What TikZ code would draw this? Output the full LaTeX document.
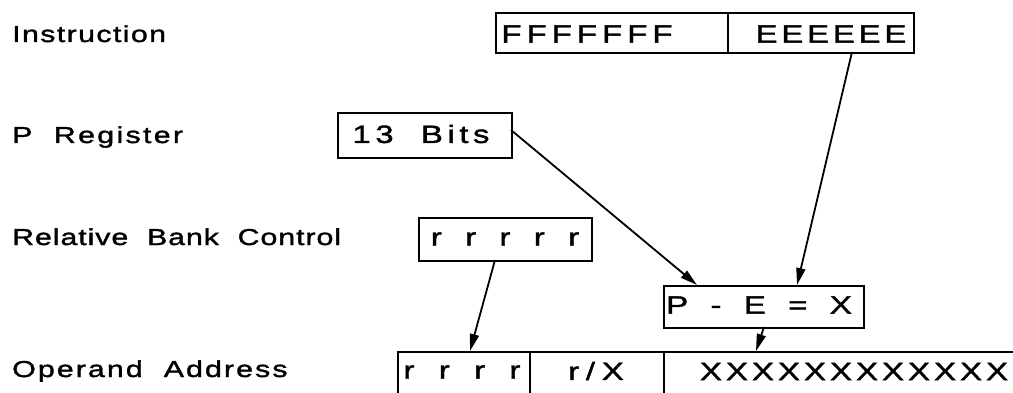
\documentclass[tikz,border=0pt]{standalone}
\usepackage{fontspec}
\setmainfont{Liberation Sans}[FakeStretch=1.32,WordSpace=2.0,FakeBold=1.5]
\newcommand{\lsp}[1]{\addfontfeature{LetterSpace=#1}}
\usetikzlibrary{arrows.meta}
\begin{document}
\begin{tikzpicture}[x=1pt,y=-1pt,
  box/.style={draw,line width=1.8pt,inner sep=0pt,anchor=north west},
  txt/.style={inner sep=0pt,font=\fontsize{25}{29}\selectfont},
  lbl/.style={inner sep=0pt,anchor=base west,font=\fontsize{23}{27}\selectfont},
  arr/.style={line width=1.8pt,-{Triangle[length=17pt,width=9pt]}}]
\useasboundingbox (0,0) rectangle (1013,393);
% labels
\node[lbl] (l1) at (12,42) {\lsp{6}Instruction};
\node[lbl] (l2) at (12,143) {\lsp{10}P Register};
\node[lbl] (l3) at (12,245) {\lsp{4}Relative Bank Control};
\node[lbl] (l4) at (12,377) {\lsp{9}Operand Address};
% instruction
\node[box,minimum width=232pt,minimum height=40pt] (f) at (495,12) {};
\node[box,minimum width=186pt,minimum height=40pt] (e) at (727,12) {};
\node[txt] (ft) at (587,34) {\lsp{20}FFFFFFF};
\node[txt] (et) at (831,34) {\lsp{15}EEEEEE};
% P register
\node[box,minimum width=174pt,minimum height=45pt] (p) at (337,112) {};
\node[txt] (pt) at (421,134) {\lsp{18}13 Bits};
% bank
\node[box,minimum width=173pt,minimum height=43pt] (r) at (418,217) {};
\node[txt] (rt) at (505,239) {\lsp{10}r r r r r};
% P-E=X
\node[box,minimum width=200pt,minimum height=42pt] (x) at (663,285) {};
\node[txt] (xt) at (759,305) {\lsp{8}P - E = X};
% operand
\node[box,minimum width=132pt,minimum height=70pt] (o1) at (397,351) {};
\node[box,minimum width=134pt,minimum height=70pt] (o2) at (529,351) {};
\node[box,minimum width=380pt,minimum height=70pt] (o3) at (663,351) {};
\node[txt] (o1t) at (462,372) {\lsp{12}r r r r};
\node[txt] (o2t) at (596,371) {\lsp{27}r/X};
\node[txt] (o3t) at (854,371.5) {\lsp{16}XXXXXXXXXXXX};
% connectors
\coordinate (es) at (852,52);
\coordinate (xn1) at (797,285);
\coordinate (pe) at (511,130);
\coordinate (xn2) at (697,285);
\coordinate (rs) at (495,260);
\coordinate (o1n) at (470,351);
\coordinate (xs) at (764,327);
\coordinate (o3n) at (756,351);
\draw[arr] (es) -- (xn1);
\draw[arr] (pe) -- (xn2);
\draw[arr] (rs) -- (o1n);
\draw[arr] (xs) -- (o3n);
\end{tikzpicture}
\end{document}
